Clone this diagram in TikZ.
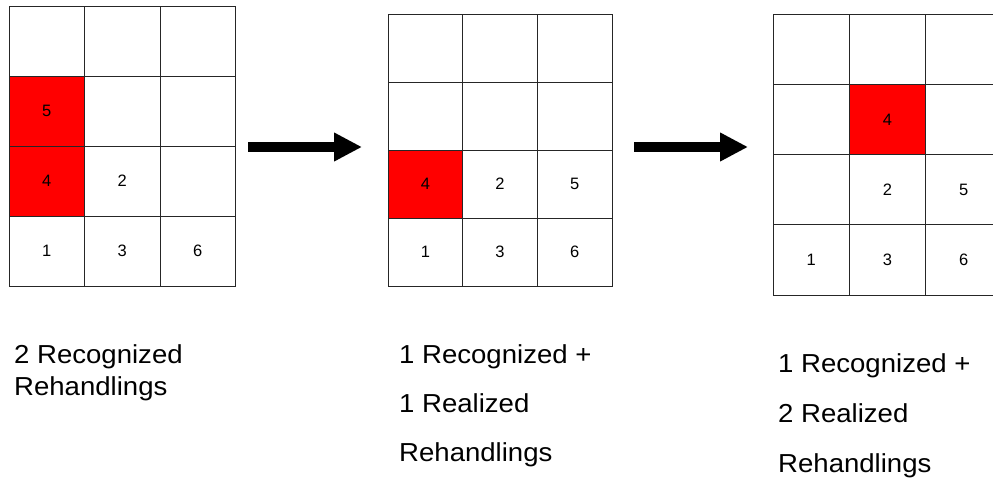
\documentclass[tikz,border=0pt]{standalone}
\usepackage{fontspec}
\setmainfont{Liberation Sans}
\newfontfamily\capfont[FakeStretch=1.06]{Liberation Sans}
\usetikzlibrary{arrows.meta}
\begin{document}
\begin{tikzpicture}[x=1pt,y=-1pt,
  cell/.style={draw=black!85, line width=0.9pt, fill=white, inner sep=0pt,
    font=\fontsize{16.5}{18}\selectfont},
  num/.style={font=\fontsize{16.5}{18}\selectfont},
  hot/.style={fill=red},
  caption/.style={anchor=base west, inner sep=0pt, font=\capfont\fontsize{26}{30}\selectfont},
  bigarrow/.style={line width=10pt, -{Triangle[length=28pt,width=27pt]}}]
\clip (0,0) rectangle (993,479);
\fill[white] (0,0) rectangle (993,479);

% grid 1: cells 75.5 x 70, origin (9,6)
\foreach \r in {1,...,4}{
  \foreach \c in {1,...,3}{
    \node[cell, minimum width=75.5pt, minimum height=70pt]
      (a-\r-\c) at ({9+(\c-0.5)*75.5},{6+(\r-0.5)*70}) {};
  }
}
\node[cell, hot, minimum width=75.5pt, minimum height=70pt] at (a-2-1) {5};
\node[cell, hot, minimum width=75.5pt, minimum height=70pt] at (a-3-1) {4};
\node[num] at (a-3-2) {2};
\node[num] at (a-4-1) {1};
\node[num] at (a-4-2) {3};
\node[num] at (a-4-3) {6};

% grid 2: cells 74.7 x 68, origin (388,14)
\foreach \r in {1,...,4}{
  \foreach \c in {1,...,3}{
    \node[cell, minimum width=74.7pt, minimum height=68pt]
      (b-\r-\c) at ({388+(\c-0.5)*74.7},{14+(\r-0.5)*68}) {};
  }
}
\node[cell, hot, minimum width=74.7pt, minimum height=68pt] at (b-3-1) {4};
\node[num] at (b-3-2) {2};
\node[num] at (b-3-3) {5};
\node[num] at (b-4-1) {1};
\node[num] at (b-4-2) {3};
\node[num] at (b-4-3) {6};

% grid 3: cells 76.3 x 70.3, origin (773,14)
\foreach \r in {1,...,4}{
  \foreach \c in {1,...,3}{
    \node[cell, minimum width=76.3pt, minimum height=70.3pt]
      (c-\r-\c) at ({773+(\c-0.5)*76.3},{14+(\r-0.5)*70.3}) {};
  }
}
\node[cell, hot, minimum width=76.3pt, minimum height=70.3pt] at (c-2-2) {4};
\node[num] at (c-3-2) {2};
\node[num] at (c-3-3) {5};
\node[num] at (c-4-1) {1};
\node[num] at (c-4-2) {3};
\node[num] at (c-4-3) {6};

% transition arrows
\coordinate (p1s) at (248,147);
\coordinate (p1e) at (362,147);
\coordinate (p2s) at (634,147);
\coordinate (p2e) at (748,147);
\draw[bigarrow] (p1s) -- (p1e);
\draw[bigarrow] (p2s) -- (p2e);

% captions
\node[caption] (t1a) at (14,363) {2 Recognized};
\node[caption] (t1b) at (14,395) {Rehandlings};
\node[caption] (t2a) at (399,363) {1 Recognized +};
\node[caption] (t2b) at (399,412) {1 Realized};
\node[caption] (t2c) at (399,461) {Rehandlings};
\node[caption] (t3a) at (778,372) {1 Recognized +};
\node[caption] (t3b) at (778,422) {2 Realized};
\node[caption] (t3c) at (778,472) {Rehandlings};
\end{tikzpicture}
\end{document}
